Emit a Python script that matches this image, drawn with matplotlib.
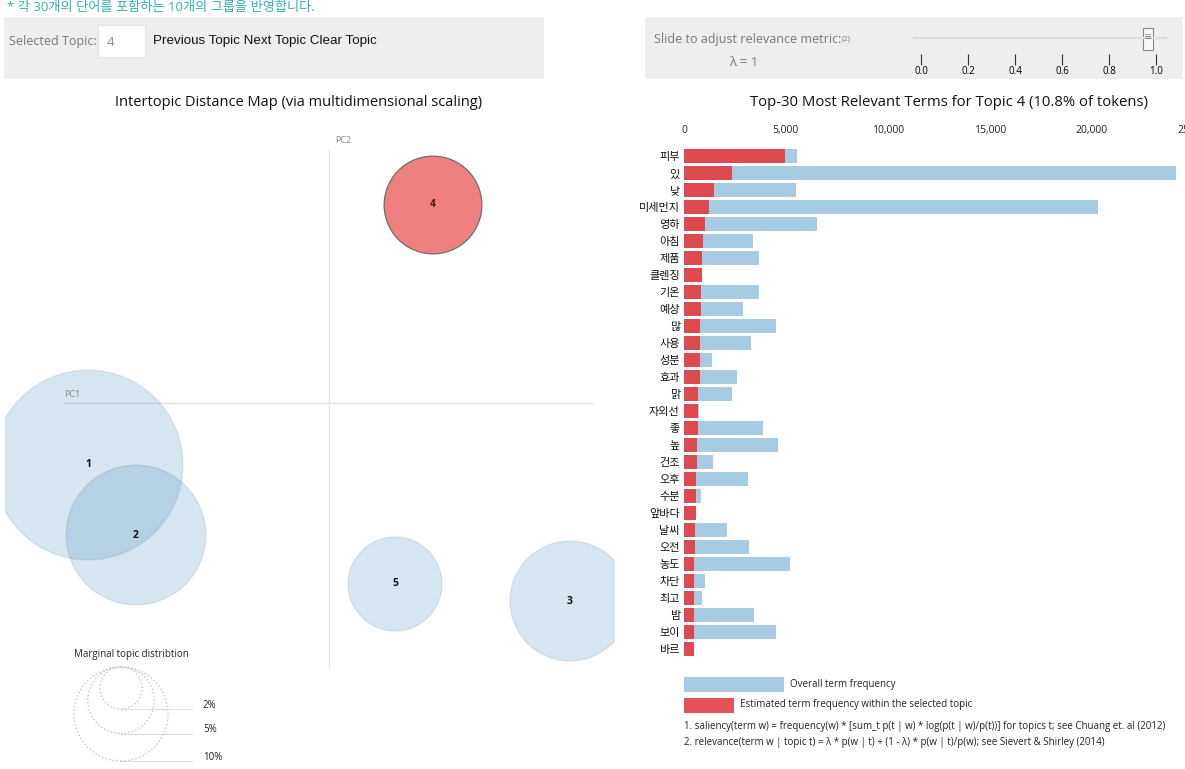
import matplotlib
matplotlib.use("Agg")
import matplotlib.pyplot as plt
from matplotlib.patches import Circle, Rectangle
import numpy as np

plt.rcParams['font.family'] = ['Open Sans', 'Noto Sans CJK KR', 'DejaVu Sans']

W, H = 1185, 769

# topic map (multidimensional scaling coordinates, share of tokens in %)
topic_ids = [1, 2, 3, 4, 5]
pc1 = [-0.241, -0.193, 0.241, 0.104, 0.066]
pc2 = [-0.062, -0.132, -0.198, 0.198, -0.181]
topic_share = [40.8, 22.1, 16.3, 10.8, 10.0]
selected_topic = 4

# top-30 terms for the selected topic
terms = ["피부", "있", "낮", "미세먼지", "영하", "아침", "제품", "클렌징", "기온", "예상",
         "많", "사용", "성분", "효과", "맑", "자외선", "좋", "높", "건조", "오후",
         "수분", "앞바다", "날씨", "오전", "농도", "차단", "최고", "밤", "보이", "바르"]
overall_freq = [5520, 24120, 5470, 20320, 6530, 3400, 3660, 900, 3660, 2910,
                4490, 3290, 1380, 2580, 2370, 740, 3860, 4610, 1430, 3120,
                840, 590, 2090, 3190, 5220, 1050, 890, 3410, 4490, 500]
topic_freq = [4960, 2370, 1490, 1250, 1040, 910, 860, 860, 830, 820,
              790, 790, 770, 770, 700, 690, 670, 650, 620, 600,
              580, 580, 550, 530, 510, 510, 500, 500, 480, 480]
freq_ticks = [0, 5000, 10000, 15000, 20000, 25000]

lambda_ticks = [0.0, 0.2, 0.4, 0.6, 0.8, 1.0]
lambda_value = 1
marginal_levels = [2, 5, 10]

blue = '#a6cbe3'
red = '#dc4a4f'
circle_blue = (31/255, 119/255, 180/255, 0.18)

fig = plt.figure(figsize=(W/100, H/100), dpi=100)


def px_axes(x0, y0, x1, y1):
    return fig.add_axes([x0/W, 1 - y1/H, (x1 - x0)/W, (y1 - y0)/H])


# page background / controls
bg = fig.add_axes([0, 0, 1, 1])
bg.set_xlim(0, W)
bg.set_ylim(H, 0)
bg.axis('off')
bg.add_patch(Rectangle((4, 17), 540, 62, facecolor='#eeeeee', edgecolor='none'))
bg.add_patch(Rectangle((645, 17), 538, 62, facecolor='#eeeeee', edgecolor='none'))
bg.add_patch(Rectangle((98, 25), 47, 32, facecolor='white', edgecolor='#e4e4e4', lw=0.8))
bg.text(7, 8, "* 각 30개의 단어를 포함하는 10개의 그룹을 반영합니다.", color='#33b0b0',
        fontsize=9.5, va='center')
bg.text(9, 42, "Selected Topic:", color='#777777', fontsize=9, va='center')
bg.text(107, 42, str(selected_topic), color='#888888', fontsize=9.5, va='center')
bg.text(153, 41, "Previous Topic Next Topic Clear Topic", color='#111111', fontsize=9.6,
        va='center', family=['Liberation Sans', 'DejaVu Sans'])
slide = bg.text(654, 39, "Slide to adjust relevance metric:", color='#777777', fontsize=9,
                va='center')
bg.annotate("(2)", xy=(1, 1), xycoords=slide, xytext=(0, -2), textcoords='offset points',
            color='#777777', fontsize=5.5, va='top', ha='left')
bg.text(744, 63, "λ = %d" % lambda_value, color='#777777', fontsize=9.5, va='center', ha='center')

bg.text(299, 102, "Intertopic Distance Map (via multidimensional scaling)", fontsize=10.5,
        ha='center', va='center', color='#111111')
bg.text(949, 102, "Top-30 Most Relevant Terms for Topic %d (%.1f%% of tokens)"
        % (selected_topic, topic_share[topic_ids.index(selected_topic)]),
        fontsize=10.7, ha='center', va='center', color='#111111')

# legend + footnotes of bar chart
bg.add_patch(Rectangle((684, 677), 100, 15, facecolor=blue, edgecolor='none'))
bg.add_patch(Rectangle((684, 698), 50, 15, facecolor='#e5535a', edgecolor='none'))
bg.text(790, 684, "Overall term frequency", fontsize=7, va='center', color='#222222')
bg.text(740, 705, "Estimated term frequency within the selected topic", fontsize=7,
        va='center', color='#222222')
bg.text(684, 727, "1. saliency(term w) = frequency(w) * [sum_t p(t | w) * log(p(t | w)/p(t))] "
        "for topics t; see Chuang et. al (2012)", fontsize=7, va='center', color='#222222')
bg.text(684, 743, "2. relevance(term w | topic t) = λ * p(w | t) + (1 - λ) * p(w | t)/p(w); "
        "see Sievert & Shirley (2014)", fontsize=7, va='center', color='#222222')

# slider
sl = px_axes(921, 28, 1156.4, 54)
sl.set_xlim(0, 1)
sl.set_ylim(0, 1)
sl.patch.set_alpha(0)
for s in sl.spines.values():
    s.set_visible(False)
sl.set_yticks([])
sl.set_xticks(lambda_ticks)
sl.set_xticklabels(["%.1f" % t for t in lambda_ticks])
sl.tick_params(axis='x', length=8, width=0.8, color='#333333', labelsize=7, pad=1)
sl.plot([-0.03, 1.04], [0.62, 0.62], color='#dddddd', lw=1.5, clip_on=False)
hx = lambda_value - 0.035
sl.add_patch(Rectangle((hx - 0.02, 0.15), 0.04, 0.85, facecolor='#f8f8f8',
                       edgecolor='#888888', lw=0.8, clip_on=False))
sl.text(hx, 0.58, "≡", fontsize=6, ha='center', va='center', color='#666666')

# intertopic distance map
mp = px_axes(5, 115, 615, 769)
mp.set_xlim(-0.324, 0.286)
mp.set_ylim(-0.366, 0.288)
mp.axis('off')
mp.plot([-0.265, 0.263], [0, 0], color='#e3e3e3', lw=1, zorder=1)
mp.plot([0, 0], [0.253, -0.264], color='#e3e3e3', lw=1, zorder=1)
mp.text(-0.265, 0.004, "PC1", fontsize=6.5, color='#888888', va='bottom')
mp.text(0.006, 0.262, "PC2", fontsize=6.5, color='#888888', va='center')

rscale = 0.1487
for t, x, y, s in zip(topic_ids, pc1, pc2, topic_share):
    r = rscale * np.sqrt(s / 100)
    if t == selected_topic:
        mp.add_patch(Circle((x, y), r, facecolor='#ee8080', edgecolor='#6e6e6e', lw=0.9, zorder=3))
        mp.text(x, y, str(t), fontsize=7.5, fontweight='bold', ha='center', va='center',
                color='#4a1414', zorder=5)
    else:
        mp.add_patch(Circle((x, y), r, facecolor=circle_blue, edgecolor=(0, 0, 0, 0.08),
                            lw=1, zorder=2))
        mp.text(x, y, str(t), fontsize=7.5, fontweight='bold', ha='center', va='center',
                color='#111111', zorder=5)

# marginal topic distribution legend
top_y, cx, line_end, lab_x = -0.264, -0.208, -0.137, -0.126
mp.text(-0.198, -0.251, "Marginal topic distribtion", fontsize=7, ha='center', va='center',
        color='#222222')
for lv in marginal_levels:
    r = rscale * np.sqrt(lv / 100)
    mp.add_patch(Circle((cx, top_y - r), r, facecolor='none', edgecolor='#c4c4c4',
                        linestyle=':', lw=1, zorder=2))
    mp.plot([cx, line_end], [top_y - 2 * r, top_y - 2 * r], color='#dddddd', lw=0.8, zorder=1)
    mp.text(lab_x, top_y - 2 * r + 0.004, "%d%%" % lv, fontsize=7, va='center', color='#222222')

# bar chart
bx = px_axes(684, 147.5, 1193.6, 657.5)
ypos = np.arange(len(terms))
bx.barh(ypos, overall_freq, height=0.82, color=blue, zorder=2)
bx.barh(ypos, topic_freq, height=0.82, color=red, zorder=3)
bx.set_xlim(0, 25000)
bx.set_ylim(len(terms) - 0.5, -0.5)
bx.set_yticks(ypos)
bx.set_yticklabels(terms)
bx.set_xticks(freq_ticks)
bx.set_xticklabels(["{:,}".format(v) for v in freq_ticks])
bx.xaxis.tick_top()
bx.tick_params(axis='x', length=0, labelsize=7.5, pad=8, labelcolor='#222222')
bx.tick_params(axis='y', length=0, labelsize=8, pad=3, labelcolor='#111111')
for s in bx.spines.values():
    s.set_visible(False)
bx.patch.set_alpha(0)

fig.savefig("out.png", dpi=100)
